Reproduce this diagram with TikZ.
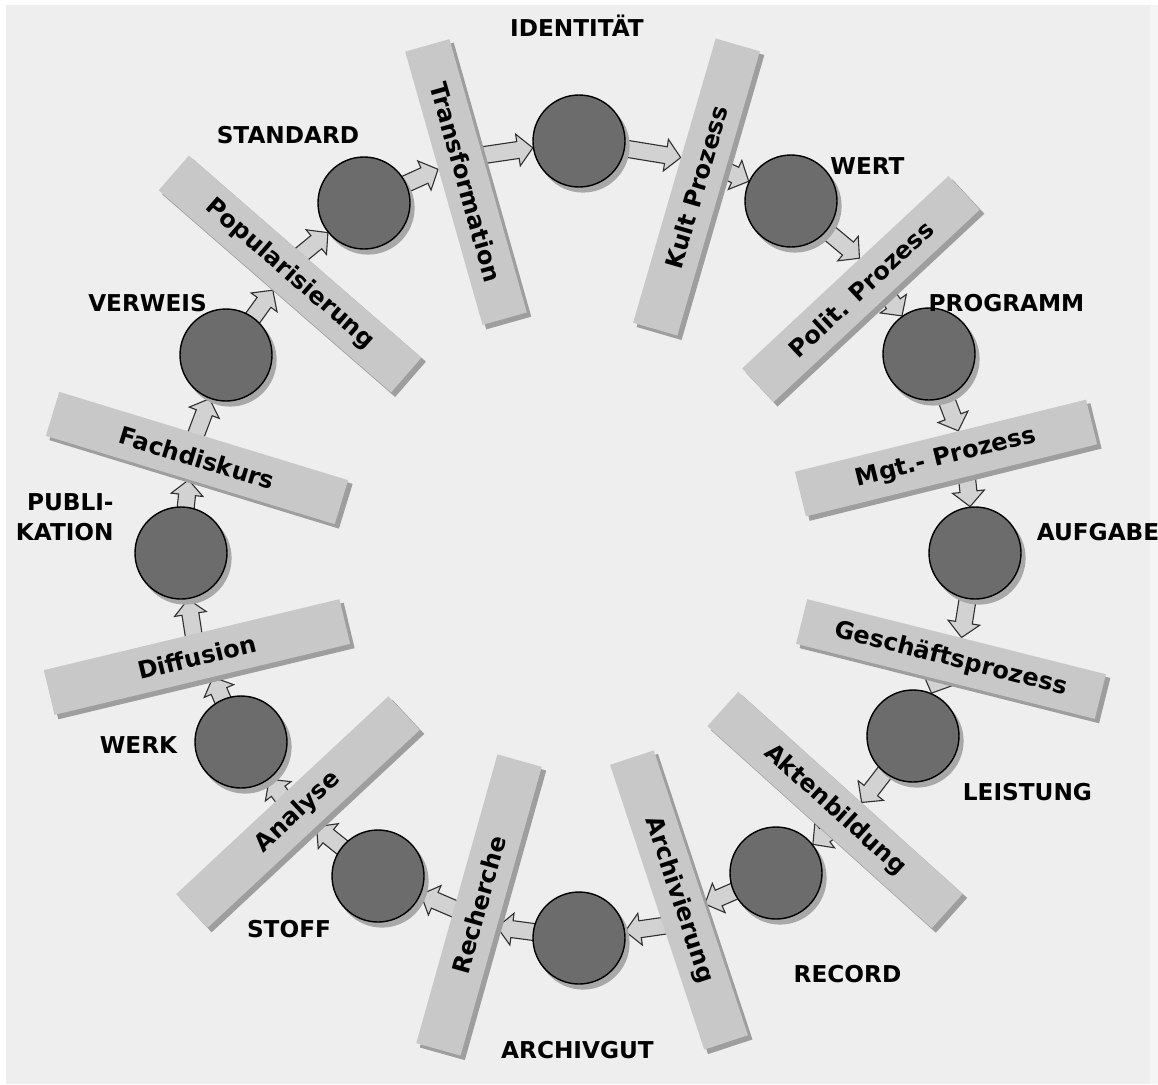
\documentclass[tikz,border=0pt]{standalone}
\usepackage{fontspec}
\setmainfont{DejaVu Sans}
\usetikzlibrary{calc}

\pgfdeclarelayer{backdrop}
\pgfdeclarelayer{arrowlayer}
\pgfdeclarelayer{shadowlayer}
\pgfsetlayers{backdrop,arrowlayer,shadowlayer,main}

\definecolor{paper}{HTML}{EEEEEE}
\definecolor{paperedge}{HTML}{F5F5F5}
\definecolor{barfill}{HTML}{C8C8C8}
\definecolor{barshade}{HTML}{9E9E9E}
\definecolor{discfill}{HTML}{6C6C6C}
\definecolor{discshade}{HTML}{A8A8A8}
\definecolor{flowfill}{HTML}{D2D2D2}
\definecolor{flowline}{HTML}{303030}

% geometry in pt (1 unit = 0.5pt)
\def\discrad{23.35}
\def\barhalf{11.5}
\def\flowhw{4.25}
\def\flowhh{8}
\def\flowhl{7.5}

\tikzset{
  stage/.style={rectangle, fill=barfill, inner sep=0pt, minimum height=23pt,
    font=\bfseries\fontsize{12}{14}\selectfont, text=black},
  disc/.style={circle, fill=discfill, draw=black, line width=0.7pt,
    minimum size=46pt, inner sep=0pt},
  tag/.style={font=\bfseries\fontsize{11.6}{15}\selectfont, text=black, inner sep=0pt},
  flow/.style={fill=flowfill, draw=flowline, line width=0.55pt, line join=miter}
}

% block arrow between a disc (#1) and a bar (#2); #3 = 1: disc to bar, -1: bar to disc
\newcommand\flowarrow[3]{%
  \pgfpointdiff{\pgfpointanchor{ring}{center}}{\pgfpointanchor{#1}{center}}%
  \pgfgetlastxy{\fax}{\fay}%
  \pgfmathsetmacro\farad{veclen(\fax,\fay)}%
  \path ($(ring)!\farad pt!(#2.center)$) coordinate (fa-q);
  \path ($(#2.west)!(fa-q)!(#2.east)$) coordinate (fa-p);
  \path ($(#2.west)!(#1.center)!(#2.east)$) coordinate (fa-f);
  \pgfpointdiff{\pgfpointanchor{#1}{center}}{\pgfpointanchor{fa-p}{center}}%
  \pgfgetlastxy{\fapx}{\fapy}%
  \pgfpointdiff{\pgfpointanchor{#1}{center}}{\pgfpointanchor{fa-f}{center}}%
  \pgfgetlastxy{\fafx}{\fafy}%
  \pgfmathsetmacro\faang{atan2(\fapy,\fapx)}%
  \pgfmathsetmacro\fadist{veclen(\fapx,\fapy)*(1-\barhalf/veclen(\fafx,\fafy))}%
  \ifnum#3>0
    \pgfmathsetmacro\fatail{\discrad-5}%
    \pgfmathsetmacro\fatip{\fadist-0.2}%
  \else
    \pgfmathsetmacro\fatail{\fadist+5}%
    \pgfmathsetmacro\fatip{\discrad}%
  \fi
  \pgfmathsetmacro\faneck{\fatip-(#3)*\flowhl}%
  \begin{pgfonlayer}{arrowlayer}
    \begin{scope}[shift={(#1.center)}, rotate=\faang]
      \draw[flow] (\fatail pt,\flowhw pt) -- (\faneck pt,\flowhw pt)
        -- (\faneck pt,\flowhh pt) -- (\fatip pt,0pt)
        -- (\faneck pt,-\flowhh pt) -- (\faneck pt,-\flowhw pt)
        -- (\fatail pt,-\flowhw pt) -- cycle;
    \end{scope}
  \end{pgfonlayer}%
}

\begin{document}
\begin{tikzpicture}[x=0.5pt, y=-0.5pt]
\useasboundingbox (0,0) rectangle (1158,1084);

\begin{pgfonlayer}{backdrop}
  \fill[white] (0,0) rectangle (1158,1084);
  \fill[paper] (6,5) rectangle (1150,1084);
  \fill[paperedge] (1150,5) rectangle (1158,1084);
\end{pgfonlayer}

\coordinate (ring) at (577.5,545);

% process bars
\node[stage, rotate=73.8,  minimum width=148pt] (b1)  at (696.5,187) {Kult Prozess};
\node[stage, rotate=43,    minimum width=141pt] (b2)  at (861,289)   {Polit. Prozess};
\node[stage, rotate=13.9,  minimum width=150pt] (b3)  at (946,458)   {Mgt.- Prozess};
\node[stage, rotate=-14.1, minimum width=154pt] (b4)  at (951,659)   {Geschäftsprozess};
\node[stage, rotate=-42,   minimum width=151pt] (b5)  at (835,810)   {Aktenbildung};
\node[stage, rotate=-71.7, minimum width=150pt] (b6)  at (679,900)   {Archivierung};
\node[stage, rotate=74.3,  minimum width=150pt] (b7)  at (479,905)   {Recherche};
\node[stage, rotate=43,    minimum width=145pt] (b8)  at (298,812)   {Analyse};
\node[stage, rotate=13.5,  minimum width=152pt] (b9)  at (197,657)   {Diffusion};
\node[stage, rotate=-17,   minimum width=151pt] (b10) at (197,458)   {Fachdiskurs};
\node[stage, rotate=-41,   minimum width=154pt] (b11) at (290,274)   {Popularisierung};
\node[stage, rotate=-74.2, minimum width=142pt] (b12) at (466,182)   {Transformation};

% discs
\node[disc] (c1)  at (579,141) {};
\node[disc] (c2)  at (791,201) {};
\node[disc] (c3)  at (929,354) {};
\node[disc] (c4)  at (975,553) {};
\node[disc] (c5)  at (913,736) {};
\node[disc] (c6)  at (776,873) {};
\node[disc] (c7)  at (579,938) {};
\node[disc] (c8)  at (378,876) {};
\node[disc] (c9)  at (241,742) {};
\node[disc] (c10) at (181,553) {};
\node[disc] (c11) at (226,355) {};
\node[disc] (c12) at (364,203) {};

% drop shadows
\begin{pgfonlayer}{shadowlayer}
  \foreach \b in {b1,b2,b3,b4,b5,b6,b7,b8,b9,b10,b11,b12}
    \fill[barshade] ($(\b.north west)+(4,4)$) -- ($(\b.north east)+(4,4)$)
      -- ($(\b.south east)+(4,4)$) -- ($(\b.south west)+(4,4)$) -- cycle;
  \foreach \c in {c1,c2,c3,c4,c5,c6,c7,c8,c9,c10,c11,c12}
    \fill[discshade] ($(\c.center)+(4,5)$) circle[radius=23.3pt];
\end{pgfonlayer}

% flow arrows, clockwise
\foreach \i/\j in {1/2,2/3,3/4,4/5,5/6,6/7,7/8,8/9,9/10,10/11,11/12,12/1}{
  \flowarrow{c\i}{b\i}{1}
  \flowarrow{c\j}{b\i}{-1}
}

% labels
\node[tag, anchor=base] (t1)  at (577,36)    {IDENTITÄT};
\node[tag, anchor=base] (t2)  at (867.5,174) {WERT};
\node[tag, anchor=base] (t3)  at (1006.5,311) {PROGRAMM};
\node[tag, anchor=base] (t4)  at (1098,540)  {AUFGABE};
\node[tag, anchor=base] (t5)  at (1027.5,800) {LEISTUNG};
\node[tag, anchor=base] (t6)  at (847.5,982) {RECORD};
\node[tag, anchor=base] (t7)  at (577.5,1058) {ARCHIVGUT};
\node[tag, anchor=base] (t8)  at (289,937)   {STOFF};
\node[tag, anchor=base] (t9)  at (138.5,753) {WERK};
\node[tag, anchor=east, align=right] (t10) at (114,517) {PUBLI-\\KATION};
\node[tag, anchor=base] (t11) at (147.5,311) {VERWEIS};
\node[tag, anchor=base] (t12) at (288,143)   {STANDARD};
\end{tikzpicture}
\end{document}
